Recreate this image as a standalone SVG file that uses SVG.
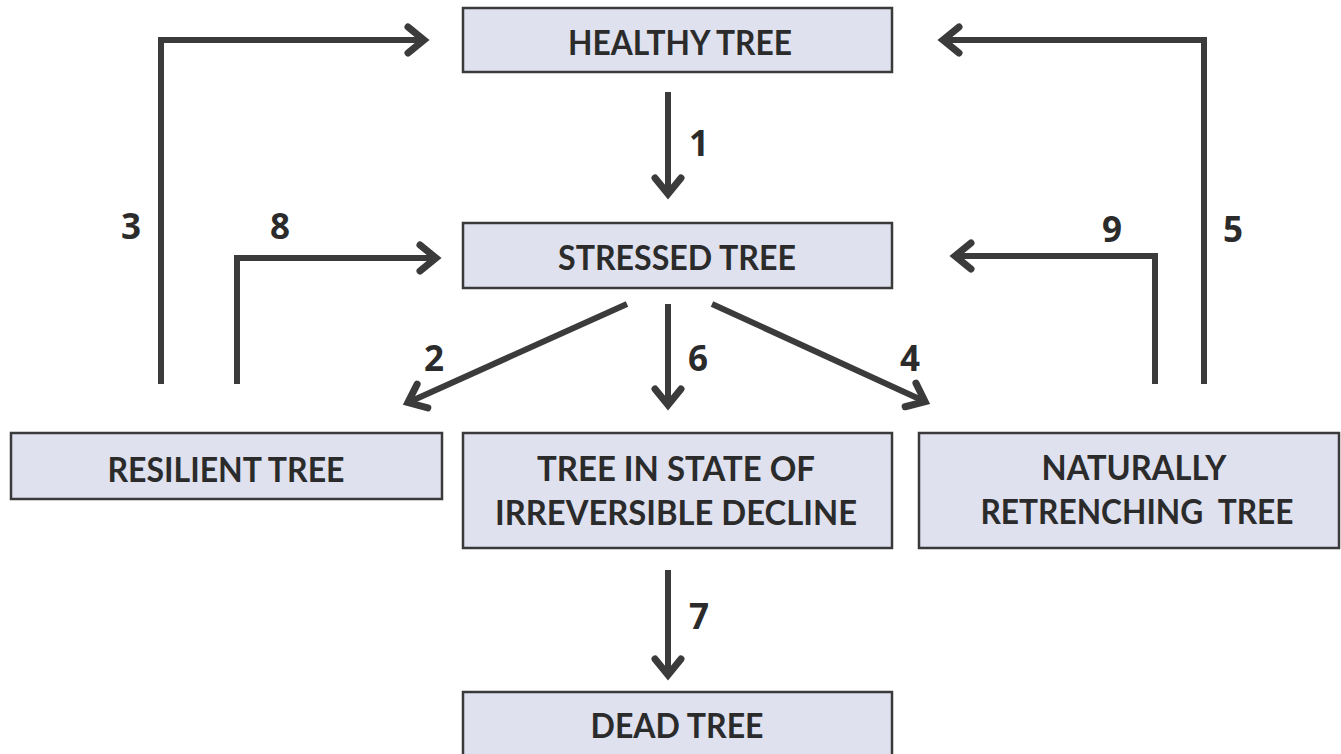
<svg xmlns="http://www.w3.org/2000/svg" width="1341" height="754" viewBox="0 0 1341 754">
<defs>
<style>
.box{fill:#dfe1ef;stroke:#3a3a3a;stroke-width:2.5}
.t{font-family:Lato,"Open Sans","Liberation Sans",sans-serif;font-weight:bold;font-size:34px;fill:#2b2b2b;text-anchor:middle}
.n{font-family:"Open Sans",Lato,"Liberation Sans",sans-serif;font-weight:bold;font-size:35px;fill:#2b2b2b;text-anchor:middle}
.c{fill:none;stroke:#3b3b3b;stroke-width:6;stroke-linejoin:miter}
</style>
<marker id="ah" markerUnits="userSpaceOnUse" viewBox="-30 -20 40 40" markerWidth="40" markerHeight="40" refX="0" refY="0" orient="auto">
<path d="M-17,-13 L-1,0 L-17,13" fill="none" stroke="#3b3b3b" stroke-width="7" stroke-linecap="round" stroke-linejoin="miter"/>
</marker>
</defs>
<rect width="1341" height="754" fill="#ffffff"/>
<g id="connectors">
<path class="c" d="M668,92 L668,195" marker-end="url(#ah)"/>
<path class="c" d="M161,384 L161,40 L425,40" marker-end="url(#ah)"/>
<path class="c" d="M237,384 L237,258 L437,258" marker-end="url(#ah)"/>
<path class="c" d="M1204,384 L1204,40 L942,40" marker-end="url(#ah)"/>
<path class="c" d="M1155,384 L1155,256 L954,256" marker-end="url(#ah)"/>
<path class="c" d="M627,304 L407,403" marker-end="url(#ah)"/>
<path class="c" d="M668,304 L668,406" marker-end="url(#ah)"/>
<path class="c" d="M712,304 L926,402" marker-end="url(#ah)"/>
<path class="c" d="M668,570 L668,676" marker-end="url(#ah)"/>
<text class="n" x="699" y="156">1</text>
<text class="n" x="434" y="371">2</text>
<text class="n" x="131" y="239">3</text>
<text class="n" x="910" y="371">4</text>
<text class="n" x="1233" y="242">5</text>
<text class="n" x="698" y="371">6</text>
<text class="n" x="699" y="629">7</text>
<text class="n" x="280" y="239">8</text>
<text class="n" x="1112" y="242">9</text>
</g>
<g id="healthy">
<rect class="box" x="463" y="8" width="429" height="64"/>
<text class="t" x="680" y="55" textLength="224" lengthAdjust="spacingAndGlyphs">HEALTHY TREE</text>
</g>
<g id="stressed">
<rect class="box" x="463" y="223" width="429" height="65"/>
<text class="t" x="677" y="270" textLength="238" lengthAdjust="spacingAndGlyphs">STRESSED TREE</text>
</g>
<g id="resilient">
<rect class="box" x="11" y="433" width="431" height="66"/>
<text class="t" x="226" y="482" textLength="237" lengthAdjust="spacingAndGlyphs">RESILIENT TREE</text>
</g>
<g id="decline">
<rect class="box" x="463" y="433" width="429" height="115"/>
<text class="t" x="676" y="481" textLength="278" lengthAdjust="spacingAndGlyphs">TREE IN STATE OF</text>
<text class="t" x="676" y="525" textLength="362" lengthAdjust="spacingAndGlyphs">IRREVERSIBLE DECLINE</text>
</g>
<g id="retrenching">
<rect class="box" x="919" y="433" width="420" height="115"/>
<text class="t" x="1134" y="480" textLength="185" lengthAdjust="spacingAndGlyphs">NATURALLY</text>
<text class="t" x="1137" y="524" textLength="313" lengthAdjust="spacingAndGlyphs" xml:space="preserve" style="white-space:pre">RETRENCHING  TREE</text>
</g>
<g id="dead">
<rect class="box" x="463" y="692" width="429" height="70"/>
<text class="t" x="677" y="738" textLength="173" lengthAdjust="spacingAndGlyphs">DEAD TREE</text>
</g>
</svg>
